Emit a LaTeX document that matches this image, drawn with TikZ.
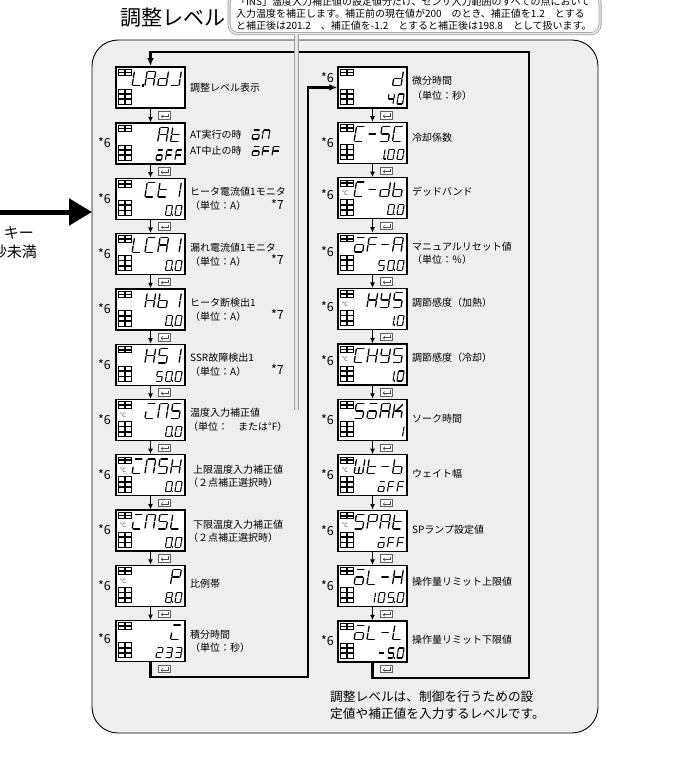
\documentclass[tikz,border=0pt]{standalone}
\usepackage{fontspec}
\setmainfont{Noto Sans CJK JP}
\usetikzlibrary{arrows.meta}
\definecolor{panelbg}{HTML}{EEEEEE}

\newcount\gcnt
% seven-segment glyphs (segment lists)
\def\zO{a,b,c,d,e,f}
\def\zOp{a,b,c,d,e,f,p}
\def\zI{b,c}
\def\zIp{b,c,p}
\def\zII{a,b,g,e,d}
\def\zIII{a,b,g,c,d}
\def\zIV{f,g,b,c}
\def\zV{a,f,g,c,d}
\def\zVp{a,f,g,c,d,p}
\def\zVIIIp{a,b,c,d,e,f,g,p}
\def\zL{f,e,d}
\def\zLp{f,e,d,p}
\def\zA{a,b,c,e,f,g}
\def\zR{a,b,c,e,f,g}
\def\zd{b,c,d,e,g}
\def\zJ{b,c,d}
\def\zt{f,e,d,g}
\def\zo{a,c,d,e,g}
\def\zN{a,b,c,e,f}
\def\zF{a,f,g,e}
\def\zC{a,f,e,d}
\def\zH{b,c,e,f,g}
\def\zb{f,e,d,c,g}
\def\zS{a,f,g,c,d}
\def\zY{b,f,g,c,d}
\def\zK{f,e,g,c,k}
\def\zW{b,c,d,e,f,w}
\def\zP{a,b,f,g,e}
\def\zm{g}
\def\zi{a,e,d}

\newcommand\dseg[1]{%
  \if#1a\draw (0.12,2)--(0.88,2);\fi
  \if#1b\draw (1,1.88)--(1,1.12);\fi
  \if#1c\draw (1,0.88)--(1,0.12);\fi
  \if#1d\draw (0.12,0)--(0.88,0);\fi
  \if#1e\draw (0,0.12)--(0,0.88);\fi
  \if#1f\draw (0,1.12)--(0,1.88);\fi
  \if#1g\draw (0.12,1)--(0.88,1);\fi
  \if#1k\draw (0.35,1.1)--(0.95,1.85);\fi
  \if#1w\draw (0.5,0.12)--(0.5,0.88);\fi
  \if#1p\fill (1.16,-0.12) rectangle (1.4,0.24);\fi
}
% #1 right x, #2 baseline y, #3 width, #4 half height, #5 pitch, #6 line width, #7 glyphs
\newcommand\segrow[7]{%
  \global\gcnt=0
  \foreach \g in {#7}{\global\advance\gcnt by 1}%
  \foreach \g [count=\i from 0] in {#7}{%
    \edef\tmp{\g}%
    \pgfmathsetmacro\xs{#1-#3-(\the\gcnt-1-\i)*#5}%
    \begin{scope}[shift={(\xs,#2)},x={(#3pt,0pt)},y={(0.16*#4pt,#4pt)},line width=#6,line cap=round]
      \foreach \s in \tmp {\dseg{\s}}
    \end{scope}
  }%
}
\newcommand\indblk[4]{%
  \foreach \r in {1,...,#3}{%
    \draw[ind] ({#1},{#2+(\r-1)*#4}) rectangle ++(6,{#4-0.7});
    \draw[ind] ({#1+6.8},{#2+(\r-1)*#4}) rectangle ++(6,{#4-0.7});
  }}
% [style] name, x, y(top), top glyphs, bottom glyphs, celsius
\newcommand\lcd[7][]{%
  \node[lcdbox,#1] (#2) at ({#3+34.5},{#4+20.5}) {};
  \indblk{#3+2.5}{#4+2}{2}{3.6}
  \indblk{#3+2.5}{#4+21.8}{3}{5.3}
  \ifnum#7=1 \node[cel] at ({#3+7},{#4+15.5}) {℃};\fi
  \segrow{#3+63}{#4+18.8}{8.5}{7.3}{12.8}{1.3pt}{#5}
  \if\relax\detokenize{#6}\relax\else\segrow{#3+64.5}{#4+37}{5.6}{5}{9.5}{1.1pt}{#6}\fi
}
\newcommand\entr[3]{%
  \node[enterbox] (#1) at (#2,#3) {};
  \draw[entsym] ({#2+3.6},{#3-1.9}) -- ({#2+3.6},{#3+0.9}) -- ({#2-3.2},{#3+0.9});
  \draw[entsym] ({#2-1.6},{#3-0.7}) -- ({#2-3.3},{#3+0.9}) -- ({#2-1.6},{#3+2.5});
}

\tikzset{
  lcdbox/.style={draw, fill=white, line width=1.3pt, minimum width=69pt, minimum height=41pt, inner sep=0},
  ind/.style={draw, fill=white, line width=0.55pt},
  cel/.style={font=\fontsize{6}{6}\selectfont, text=gray!70!black, inner sep=0},
  lab/.style={anchor=west, inner sep=0, font=\fontsize{10}{12}\selectfont},
  astl/.style={anchor=east, inner sep=0, font=\fontsize{12.5}{14}\selectfont},
  darrow/.style={line width=1.3pt, -{Latex[length=5.5pt,width=5pt]}},
  looparrow/.style={line width=2.2pt, -{Latex[length=8pt,width=6.5pt]}},
  enterbox/.style={draw=gray!75!black, fill=white, line width=0.6pt, minimum width=12pt, minimum height=7.5pt, inner sep=0},
  entsym/.style={gray!60!black, line width=0.5pt},
  ptr/.style={draw=gray!75, double=gray!20, double distance=3pt, line width=1pt},
  callout/.style={draw=gray!75, double=gray!15, double distance=1.4pt, line width=0.8pt, rounded corners=9pt, fill=white},
}

\begin{document}
\begin{tikzpicture}[x=1pt,y=-1pt]
\useasboundingbox (0,0) rectangle (675,762);

% panel
\draw[fill=panelbg, line width=0.9pt, rounded corners=26pt] (92,40) rectangle (598,733);

% title
\node[inner sep=0, font=\fontsize{21}{24}\selectfont] (title) at (173,18) {調整レベル};

% incoming arrow
\coordinate (lin) at (-2,212);
\coordinate (pw) at (92,212);
\draw[line width=5pt, -{Triangle[length=23pt,width=26pt]}] (lin) -- (pw);
\node[anchor=east, inner sep=0, font=\fontsize{15}{17}\selectfont] (k1) at (34,233) {キー};
\node[anchor=east, inner sep=0, font=\fontsize{15}{17}\selectfont] (k2) at (37,252) {秒未満};

% left column
\lcd[line width=1.8pt]{ladj}{116}{67}{\zLp,\zA,\zd,\zJ}{}{0}
\lcd{at}{116}{123}{\zA,\zt}{\zo,\zF,\zF}{0}
\lcd{ct}{116}{178.3}{\zC,\zt,\zI}{\zOp,\zO}{0}
\lcd{lcr}{116}{233.6}{\zL,\zC,\zR,\zI}{\zOp,\zO}{0}
\lcd{hb}{116}{288.9}{\zH,\zb,\zI}{\zOp,\zO}{0}
\lcd{hs}{116}{344.2}{\zH,\zS,\zI}{\zV,\zOp,\zO}{0}
\lcd{ins}{116}{399.5}{\zi,\zN,\zS}{\zOp,\zO}{1}
\lcd{insh}{116}{454.8}{\zi,\zN,\zS,\zH}{\zOp,\zO}{1}
\lcd{insl}{116}{510.1}{\zi,\zN,\zS,\zL}{\zOp,\zO}{1}
\lcd{pb}{116}{565.4}{\zP}{\zVIIIp,\zO}{1}
\lcd{it}{116}{620.7}{\zi}{\zII,\zIII,\zIII}{0}

% right column
\lcd{dd}{338}{67}{\zd}{\zIV,\zO}{0}
\lcd{csc}{338}{122.4}{\zC,\zm,\zS,\zC}{\zIp,\zO,\zO}{0}
\lcd{cdb}{338}{177.8}{\zC,\zm,\zd,\zb}{\zOp,\zO}{1}
\lcd{ofr}{338}{233.2}{\zo,\zF,\zm,\zR}{\zV,\zOp,\zO}{0}
\lcd{hys}{338}{288.6}{\zH,\zY,\zS}{\zIp,\zO}{1}
\lcd{chys}{338}{344}{\zC,\zH,\zY,\zS}{\zIp,\zO}{1}
\lcd{soak}{338}{399.4}{\zS,\zo,\zA,\zK}{\zI}{0}
\lcd{wtb}{338}{454.8}{\zW,\zt,\zm,\zb}{\zo,\zF,\zF}{1}
\lcd{sprt}{338}{510.2}{\zS,\zP,\zR,\zt}{\zo,\zF,\zF}{1}
\lcd{olh}{338}{565.6}{\zo,\zL,\zm,\zH}{\zI,\zO,\zVp,\zO}{0}
\lcd{oll}{338}{621}{\zo,\zL,\zm,\zL}{\zm,\zVp,\zO}{0}

% step arrows
\foreach \a/\b in {ladj/at,at/ct,ct/lcr,lcr/hb,hb/hs,hs/ins,ins/insh,insh/insl,insl/pb,pb/it,dd/csc,csc/cdb,cdb/ofr,ofr/hys,hys/chys,chys/soak,soak/wtb,wtb/sprt,sprt/olh,olh/oll}{
  \draw[darrow] (\a) -- (\b);
}

% enter icons
\foreach \y [count=\k] in {115.5,171.2,226.5,281.8,337.1,392.4,447.7,503,558.3,613.6,669}{
  \entr{el\k}{164.5}{\y}
}
\foreach \y [count=\k] in {115.2,170.6,226,281.4,336.8,392.2,447.6,503,558.4,613.8,669}{
  \entr{er\k}{386.5}{\y}
}

% loop lines
\coordinate (q1) at (529,678);
\coordinate (q2) at (529,52);
\coordinate (q3) at (308,677);
\coordinate (q4) at (308,87.5);
\draw[looparrow] (oll.south) |- (q1) -- (q2) -| (ladj.north);
\draw[looparrow] (it.south) |- (q3) -- (q4) -- (dd.west);

% *6 marks
\foreach \y in {143,198.3,253.6,308.9,364.2,419.5,474.8,530.1,585.4,639}{
  \node[astl] at (111,\y) {*6};
}
\foreach \y in {78,142.4,195,252,307,361,419.4,474.8,530.2,585.6,641}{
  \node[astl] at (334,\y) {*6};
}
% *7 marks
\foreach \y in {204.3,259.6,315,370}{
  \node[astl] at (284,\y) {*7};
}

% left labels
\node[lab] at (190,88) {調整レベル表示};
\node[lab] at (190,135) {AT実行の時};
\node[lab] at (190,151) {AT中止の時};
\segrow{268.5}{139}{6.5}{4.5}{10}{1.1pt}{\zo,\zN}
\segrow{278.5}{155.5}{6.5}{4.5}{10}{1.1pt}{\zo,\zF,\zF}
\node[lab] at (190,192) {ヒータ電流値1モニタ};
\node[lab] at (190,206) {（単位：A）};
\node[lab] at (190,247.5) {漏れ電流値1モニタ};
\node[lab] at (190,261.5) {（単位：A）};
\node[lab] at (190,302.5) {ヒータ断検出1};
\node[lab] at (190,316.5) {（単位：A）};
\node[lab] at (190,358) {SSR故障検出1};
\node[lab] at (190,372) {（単位：A）};
\node[lab] at (190,413) {温度入力補正値};
\node[lab] at (188,426.5) {（単位：　または°F）};
\node[lab] at (193,470) {上限温度入力補正値};
\node[lab] at (188,483) {（２点補正選択時）};
\node[lab] at (193,525) {下限温度入力補正値};
\node[lab] at (188,538) {（２点補正選択時）};
\node[lab] at (190,583.5) {比例帯};
\node[lab] at (190,635) {積分時間};
\node[lab] at (190,648) {（単位：秒）};

% right labels
\node[lab] at (412,81) {微分時間};
\node[lab] at (412,96) {（単位：秒）};
\node[lab] at (412,138) {冷却係数};
\node[lab] at (412,192) {デッドバンド};
\node[lab] at (412,247) {マニュアルリセット値};
\node[lab] at (412,259.5) {（単位：％）};
\node[lab] at (412,303) {調節感度（加熱）};
\node[lab] at (412,358) {調節感度（冷却）};
\node[lab] at (412,419) {ソーク時間};
\node[lab] at (412,474) {ウェイト幅};
\node[lab] at (412,530) {SPランプ設定値};
\node[lab] at (412,582) {操作量リミット上限値};
\node[lab] at (412,640) {操作量リミット下限値};

% bottom note
\node[anchor=west, inner sep=0, font=\fontsize{12.7}{15}\selectfont] (n1) at (330,697) {調整レベルは、制御を行うための設};
\node[anchor=west, inner sep=0, font=\fontsize{12.7}{15}\selectfont] (n2) at (330,714) {定値や補正値を入力するレベルです。};

% callout
\coordinate (ptip) at (296,410);
\node[callout, anchor=south, minimum width=371pt, minimum height=40pt, text width=357pt, align=left, inner xsep=7pt, inner ysep=2pt, font=\fontsize{10}{12}\selectfont] (co) at (414.5,34) {「INS」温度入力補正値の設定値分だけ、センサ入力範囲のすべての点において\\入力温度を補正します。補正前の現在値が200　のとき、補正値を1.2　とする\\と補正後は201.2　、補正値を-1.2　とすると補正後は198.8　として扱います。};
\draw[ptr] (co.south -| ptip) -- (ptip);
\end{tikzpicture}
\end{document}
